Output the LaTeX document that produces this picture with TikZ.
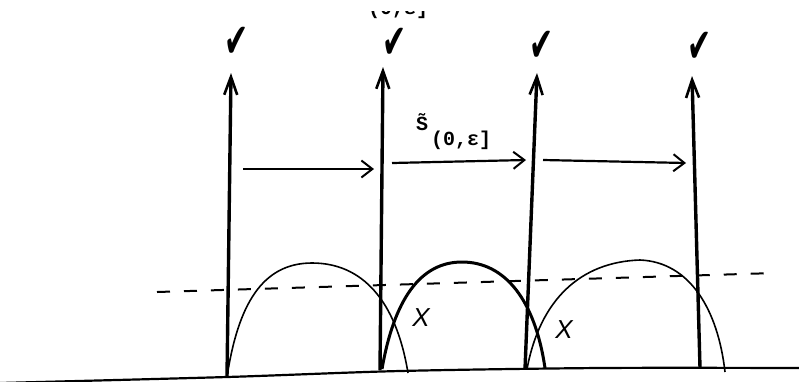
\documentclass[tikz,border=0pt]{standalone}
\usepackage{fontspec}
\setmainfont{Liberation Sans}
\setmonofont{Liberation Mono}
\newfontfamily\symfont{DejaVu Sans}
\usetikzlibrary{arrows.meta}
\begin{document}
\begin{tikzpicture}[x=1pt,y=-1pt,
  vline/.style={line width=3.4pt,-{Straight Barb[length=18pt,width=13pt,line width=2.6pt]}},
  harrow/.style={line width=2.2pt,-{Straight Barb[length=11pt,width=17pt,line width=2pt]}},
  thinarch/.style={line width=1.6pt},
  thickarch/.style={line width=3pt},
  dashline/.style={line width=2pt,dash pattern=on 13pt off 14pt},
  base/.style={line width=2.2pt},
  checkmark/.style={font=\symfont\fontsize{48}{48}\selectfont, xscale=0.6, inner sep=0pt},
  cross/.style={font=\itshape\fontsize{26}{26}\selectfont, inner sep=0pt},
  label/.style={font=\ttfamily\bfseries\fontsize{20}{20}\selectfont, inner sep=0pt}
]
\useasboundingbox (0,0) rectangle (799,381);
\fill[white] (0,0) rectangle (799,381);

% coordinates
\coordinate (b1) at (227,377); \coordinate (t1) at (231,73);
\coordinate (b2) at (380,370); \coordinate (t2) at (383,67);
\coordinate (b3) at (525,369); \coordinate (t3) at (537,73);
\coordinate (b4) at (700,368); \coordinate (t4) at (692,76);

% baseline
\coordinate (g0) at (0,383); \coordinate (g1) at (799,368);
\draw[base] plot[smooth] coordinates {(g0) (b1) (400,371) (600,368) (g1)};

% dashed level line
\coordinate (d0) at (157,292); \coordinate (d1) at (775,273);
\draw[dashline] (d0) -- (d1);

% arches
\draw[thinarch] (b1) .. controls (238,305) and (262,263) .. (312,263)
  .. controls (362,263) and (396,300) .. (408,373);
\draw[thickarch] (382,369) .. controls (394,300) and (420,262) .. (462,262)
  .. controls (505,262) and (535,300) .. (545,368);
\draw[thinarch] (527,369) .. controls (540,300) and (580,262) .. (640,260)
  .. controls (690,262) and (718,310) .. (725,372);

% vertical arrows
\draw[vline] (b1) -- (t1);
\draw[vline] (b2) -- (t2);
\draw[vline] (b3) -- (t3);
\draw[vline] (b4) -- (t4);

% horizontal arrows
\coordinate (h1a) at (243,169); \coordinate (h1b) at (374,169);
\coordinate (h2a) at (392,163); \coordinate (h2b) at (526,160);
\coordinate (h3a) at (543,160); \coordinate (h3b) at (686,163);
\draw[harrow] (h1a) -- (h1b);
\draw[harrow] (h2a) -- (h2b);
\draw[harrow] (h3a) -- (h3b);

% check marks
\node[checkmark] (c1) at (237,42) {✔};
\node[checkmark] (c2) at (395,43) {✔};
\node[checkmark] (c3) at (542,46) {✔};
\node[checkmark] (c4) at (700,47) {✔};

% crosses
\node[cross] (x1) at (421,318) {X};
\node[cross] (x2) at (564,330) {X};

% label
\node[label] (S) at (422,122) {\~{S}};
\node[label] (sub) at (461,140) {(0,ε]};

% cut-off text at top
\begin{scope}
\clip (300,11) rectangle (500,30);
\node[label] (top) at (398,9) {(0,ε]};
\end{scope}
\end{tikzpicture}
\end{document}
